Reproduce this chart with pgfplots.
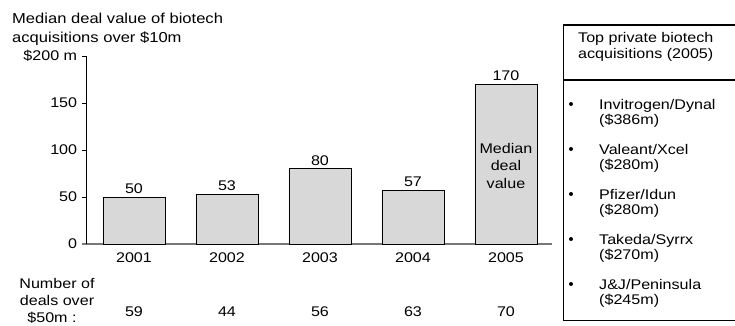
\documentclass[border=0pt]{standalone}
\usepackage{pgfplots}
\pgfplotsset{compat=1.18}
\usepackage{fontspec}
\setmainfont{Liberation Sans}[FakeStretch=1.15]
\definecolor{bargray}{RGB}{216,216,216}
\definecolor{axisgray}{RGB}{120,120,120}
\pgfplotstableread{
x y
0 50
1 53
2 80
3 57
4 170
}\medianvalue
\begin{document}
\fontsize{14}{17}\selectfont
\begin{tikzpicture}
\useasboundingbox (0,0) rectangle (735pt,325pt);
\begin{axis}[
  at={(86pt,81pt)}, anchor=south west,
  scale only axis, width=466pt, height=188pt,
  xmin=-0.516, xmax=4.495, ymin=0, ymax=200,
  axis lines=left,
  axis line style={-},
  x axis line style={draw=axisgray, line width=1.5pt, shorten <=-4pt},
  y axis line style={draw=black, line width=0.8pt},
  xtick={0,1,2,3,4},
  xticklabels={2001,2002,2003,2004,2005},
  x tick style={draw=none},
  ytick={0,50,100,150,200},
  yticklabels={0,50,100,150,\$200 m},
  y tick style={draw=black, line width=0.8pt},
  tick align=outside,
  major tick length=4pt,
  /pgf/number format/assume math mode=true,
  clip=false,
]
\addplot[ybar, bar width=62pt, draw=black, line width=0.8pt, fill=bargray,
  nodes near coords, every node near coord/.append style={inner sep=3pt, black}]
  table[x=x, y=y] {\medianvalue};
\node[align=center, font=\fontsize{14}{17.5}\selectfont] at (axis cs:4,83) {Median\\deal\\value};
\node[anchor=base] at (axis cs:0,-76.6) {59};
\node[anchor=base] at (axis cs:1,-76.6) {44};
\node[anchor=base] at (axis cs:2,-76.6) {56};
\node[anchor=base] at (axis cs:3,-76.6) {63};
\node[anchor=base] at (axis cs:4,-76.6) {70};
\end{axis}
% title
\node[anchor=base west, inner sep=0pt, font=\fontsize{14.4}{17}\selectfont] at (12pt,301.5pt) {Median deal value of biotech};
\node[anchor=base west, inner sep=0pt, font=\fontsize{14.4}{17}\selectfont] at (12pt,282.5pt) {acquisitions over \$10m};
% number of deals label
\node[anchor=base, inner sep=0pt] at (57pt,37pt) {Number of};
\node[anchor=base, inner sep=0pt] at (57pt,20pt) {deals over};
\node[anchor=base, inner sep=0pt] at (52pt,3pt) {\$50m :};
% right box
\draw[line width=0.8pt] (563.5pt,5pt) rectangle (738pt,245pt);
\draw[line width=1.6pt] (563.5pt,245pt) rectangle (738pt,300pt);
\node[anchor=base west, inner sep=0pt] at (578pt,283pt) {Top private biotech};
\node[anchor=base west, inner sep=0pt] at (578pt,267pt) {acquisitions (2005)};
\foreach \yy/\a/\b in {216/Invitrogen\slash Dynal/(\$386m), 171/Valeant\slash Xcel/(\$280m), 126/Pfizer\slash Idun/(\$280m), 81/Takeda\slash Syrrx/(\$270m), 36/J\&J\slash Peninsula/(\$245m)}{
  \fill (571pt,\yy pt+5pt) circle (2pt);
  \node[anchor=base west, inner sep=0pt] at (599pt,\yy pt) {\a};
  \node[anchor=base west, inner sep=0pt] at (599pt,\yy pt-15pt) {\b};
}
\end{tikzpicture}
\end{document}
